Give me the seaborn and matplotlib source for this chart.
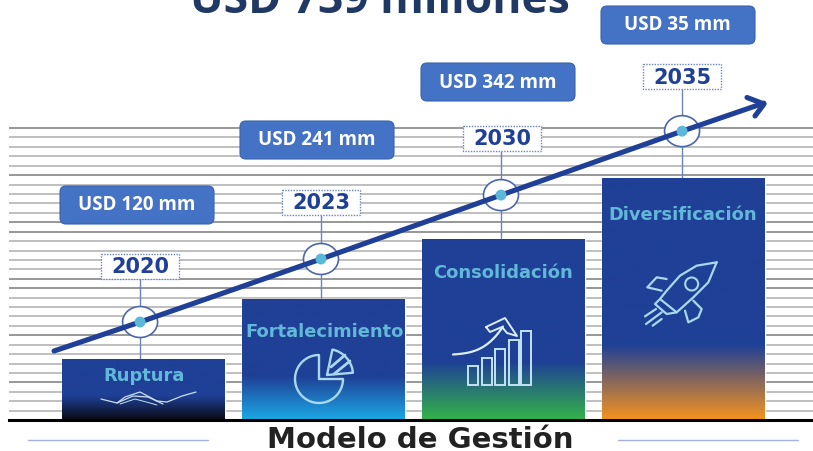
import numpy as np
import matplotlib
matplotlib.use("Agg")
import matplotlib.pyplot as plt
import seaborn as sns
from matplotlib.colors import LinearSegmentedColormap
from matplotlib.patches import Ellipse, FancyBboxPatch, Rectangle, Circle

stages = ["Ruptura", "Fortalecimiento", "Consolidación", "Diversificación"]
levels = [1, 2, 3, 4]
years = ["2020", "2023", "2030", "2035"]
amounts = ["USD 120 mm", "USD 241 mm", "USD 342 mm", "USD 35 mm"]
trend_x = [-0.497, -0.019, 0.986, 1.986, 2.992, 3.446]
trend_y = [1.144, 1.625, 2.67, 3.73, 4.79, 5.255]
marker_x = trend_x[1:5]
marker_y = trend_y[1:5]
year_box_y = [2.34, 3.40, 4.46, 5.49]
end_colors = ["#0a0a14", "#1ca9e6", "#35b44a", "#f7931e"]
blue_until = [0.40, 0.36, 0.32, 0.31]

BLUE = "#1f4096"
LIGHT = "#62b8d9"
ICON = "#a9d8ec"
PX_X, PX_Y = 180, 60.3   # pixels per data unit

sns.set_theme(style="white")
fig = plt.figure(figsize=(8.13, 4.52), dpi=100)
ax = fig.add_axes([9 / 813, 31 / 452, 804 / 813, 421 / 452])

sns.barplot(x=stages, y=levels, order=stages, width=0.905, color=BLUE, ax=ax, zorder=2)
ax.set_xlim((9 - 143.5) / PX_X, (813 - 143.5) / PX_X)
ax.set_ylim(0, 421 / PX_Y)

# ruled background
rules = np.linspace(0.154, 4.842, 31)
dark = [3, 8, 13, 14, 19, 20, 25, 30]
ax.set_yticks(rules[dark])
ax.set_yticks(np.delete(rules, dark), minor=True)
ax.set_xticks([])
ax.tick_params(which="both", length=0, labelleft=False)
ax.grid(axis="y", which="major", color="#8f8f8f", lw=1.3, zorder=0)
ax.grid(axis="y", which="minor", color="#b4b4b4", lw=1.2, zorder=0)
ax.set_axisbelow(True)
ax.set_xlabel("")
ax.set_ylabel("")
sns.despine(ax=ax, left=True, right=True, top=True)
ax.spines["bottom"].set_color("black")
ax.spines["bottom"].set_linewidth(2.2)
ax.patch.set_alpha(0)

# gradient fill on every bar
for bar, end, frac in zip(ax.patches, end_colors, blue_until):
    x0, w, h = bar.get_x(), bar.get_width(), bar.get_height()
    cmap = LinearSegmentedColormap.from_list("g", [(0, end), (frac, BLUE), (1, BLUE)])
    im = ax.imshow(np.linspace(1, 0, 256)[:, None], cmap=cmap, vmin=0, vmax=1, aspect="auto",
                   extent=(x0, x0 + w, 0, h), zorder=2.5)
ax.set_xlim((9 - 143.5) / PX_X, (813 - 143.5) / PX_X)
ax.set_ylim(0, 421 / PX_Y)

# drop lines, rings, trend and dots
for x, lvl, top in zip(marker_x, levels, year_box_y):
    ax.vlines(x, lvl, top, color="#6c84bd", lw=1, zorder=1.5)
for x, y in zip(marker_x, marker_y):
    ax.add_patch(Ellipse((x, y), 35 / PX_X, 31 / PX_Y, fc="white", ec="#4a66ad", lw=1.2, zorder=4))
sns.lineplot(x=trend_x, y=trend_y, sort=False, estimator=None, color=BLUE, lw=3.7, ax=ax, zorder=5,
             solid_capstyle="round", legend=False)
sns.scatterplot(x=marker_x, y=marker_y, s=62, color="#5bb8d8", edgecolor="none", ax=ax, zorder=6, legend=False)
ax.set_yticks(rules[dark])
ax.set_xticks([])

# overlay in pixel coordinates for the decoration
ov = fig.add_axes([0, 0, 1, 1], zorder=5)
ov.set_xlim(0, 813)
ov.set_ylim(452, 0)
ov.axis("off")

ov.plot([747, 764, 755], [98.5, 105, 117], color=BLUE, lw=3.7, solid_capstyle="round", solid_joinstyle="round")

ov.text(380, 13, "USD 739 millones", ha="center", va="baseline", fontsize=32, color="#1f3864",
        family="Open Sans", weight="bold")
ov.text(420, 440, "Modelo de Gestión", ha="center", va="center", fontsize=21, color="#222222",
        family="DejaVu Sans", weight="bold")
ov.plot([28, 208], [441, 441], color="#a3b2d8", lw=1)
ov.plot([618, 798], [441, 441], color="#a3b2d8", lw=1)

# amount pills
pills = [(60, 187), (240, 122), (421, 64), (601, 7)]
for (px, py), label in zip(pills, amounts):
    ov.add_patch(FancyBboxPatch((px + 5, py + 5), 144, 28, boxstyle="round,pad=5,rounding_size=6",
                                fc="#4472c4", ec="#3a63ae", lw=0.8))
    ov.text(px + 76.5, py + 18.5, label, ha="center", va="center", color="white", fontsize=13.5,
            family="Open Sans", weight="bold")

# year boxes
boxes = [(101, 255), (282, 191), (463, 127), (643, 65)]
for (px, py), label in zip(boxes, years):
    ov.add_patch(Rectangle((px, py), 78, 25, fc="white", ec="#6c84bd", lw=1, ls=(0, (1, 1))))
    ov.text(px + 39, py + 12.5, label, ha="center", va="center", color=BLUE, fontsize=15, weight="bold",
            family="DejaVu Sans")

# stage names
name_pos = [(144, 376), (325, 332), (503, 273), (683, 215)]
for (px, py), label in zip(name_pos, stages):
    ov.text(px, py, label, ha="center", va="center", color=LIGHT, fontsize=12.9, weight="bold",
            family="DejaVu Sans")


def icon_line(xs, ys, lw=1.5, color=ICON):
    ov.plot(xs, ys, color=color, lw=lw, solid_capstyle="round", solid_joinstyle="round")


def arc(cx, cy, r, a0, a1):
    t = np.radians(np.linspace(a0, a1, 60))
    return cx + r * np.cos(t), cy - r * np.sin(t)


# handshake
icon_line([101, 117, 125, 140, 157, 167, 182, 196], [400, 404, 398, 393, 402, 403, 397, 393], lw=0.9, color="#c9dff0")
icon_line([117, 133, 148, 163], [404, 397, 398, 405], lw=0.9, color="#c9dff0")
icon_line([120, 135, 150, 157], [405, 400, 404, 406], lw=0.7, color="#c9dff0")

# pie
ax_, ay_ = arc(319, 380, 24, 90, 360)
icon_line(np.r_[319, ax_, 319], np.r_[380, ay_, 380], lw=1.7)
bx_, by_ = arc(327, 376, 26, 5, 78)
icon_line(np.r_[327, bx_, 327], np.r_[376, by_, 376], lw=1.7)
icon_line([331, 345], [368, 356], lw=2)
icon_line([334, 350], [375, 362], lw=2)

# rising bars with arrow
for bx, top in zip([468, 482, 495, 509, 521], [367, 359, 350, 341, 332]):
    ov.add_patch(Rectangle((bx, top), 10, 386 - top, fc="none", ec="#c3e4f2", lw=1.4))
t = np.linspace(0, 1, 30)
icon_line(453 + 50 * t, 355.5 - 4 * t - 24 * t ** 3, lw=1.6, color="#d9eef7")
icon_line([486, 505, 517, 507, 502, 490, 486], [328, 319, 337, 334, 328, 333, 328], lw=1.4, color="#d9eef7")

# rocket (drawn from outline points)
rx = np.array([920, 860, 810, 770, 750, 800, 850, 895, 920]) / 3 + 410
ry = np.array([100, 110, 140, 185, 210, 250, 205, 160, 100]) / 3 + 230
icon_line(rx, ry, lw=1.6)
icon_line(np.array([770, 740, 712, 755]) / 3 + 410, np.array([150, 145, 175, 185]) / 3 + 230, lw=1.6)
icon_line(np.array([850, 875, 865, 835, 825]) / 3 + 410, np.array([215, 240, 265, 280, 245]) / 3 + 230, lw=1.6)
icon_line(np.array([750, 735, 770, 800]) / 3 + 410, np.array([210, 225, 255, 250]) / 3 + 230, lw=1.6)
ov.add_patch(Circle((845 / 3 + 410, 165 / 3 + 230), 6.5, fc="none", ec=ICON, lw=1.5))
icon_line(np.array([705, 738]) / 3 + 410, np.array([262, 240]) / 3 + 230, lw=1.6)
icon_line(np.array([708, 755]) / 3 + 410, np.array([285, 250]) / 3 + 230, lw=1.6)
icon_line(np.array([728, 755]) / 3 + 410, np.array([290, 270]) / 3 + 230, lw=1.6)

fig.savefig("out.png", dpi=100)
